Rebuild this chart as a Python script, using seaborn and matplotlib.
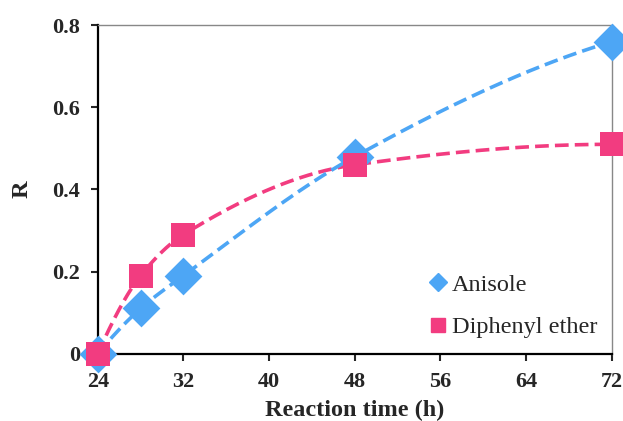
import numpy as np
import pandas as pd
import matplotlib
matplotlib.use('Agg')
import matplotlib.pyplot as plt
import seaborn as sns
from matplotlib.lines import Line2D

# =========================
# DATA
# =========================

time_h = [24, 28, 32, 48, 72]
anisole = [0.0, 0.11, 0.19, 0.48, 0.76]
diphenyl_ether = [0.0, 0.19, 0.29, 0.46, 0.51]

x_ticks = [24, 32, 40, 48, 56, 64, 72]
y_ticks = [0, 0.2, 0.4, 0.6, 0.8]
y_tick_labels = ['0', '0.2', '0.4', '0.6', '0.8']

BLUE = '#4DA6F5'
PINK = '#F23C80'

X_LIM = (24, 72)
Y_LIM = (0, 0.8)


def smooth_curve(xs, ys, n=60):
    # smoothed line: monotone cubic (pchip-style) through the points
    xs = np.asarray(xs, float)
    ys = np.asarray(ys, float)
    h = np.diff(xs)
    d = np.diff(ys) / h
    m = np.zeros_like(ys)
    for k in range(1, len(xs) - 1):
        if d[k - 1] * d[k] > 0:
            w1 = 2 * h[k] + h[k - 1]
            w2 = h[k] + 2 * h[k - 1]
            m[k] = (w1 + w2) / (w1 / d[k - 1] + w2 / d[k])
    m[0] = ((2 * h[0] + h[1]) * d[0] - h[0] * d[1]) / (h[0] + h[1])
    m[-1] = ((2 * h[-1] + h[-2]) * d[-1] - h[-1] * d[-2]) / (h[-1] + h[-2])
    if m[0] * d[0] < 0:
        m[0] = 0.0
    if m[-1] * d[-1] < 0:
        m[-1] = 0.0
    gx, gy = [], []
    for i in range(len(xs) - 1):
        t = np.linspace(0, 1, n)
        if i > 0:
            t = t[1:]
        h00 = 2 * t**3 - 3 * t**2 + 1
        h10 = t**3 - 2 * t**2 + t
        h01 = -2 * t**3 + 3 * t**2
        h11 = t**3 - t**2
        gx.append(xs[i] + t * h[i])
        gy.append(h00 * ys[i] + h10 * h[i] * m[i]
                  + h01 * ys[i + 1] + h11 * h[i] * m[i + 1])
    return np.concatenate(gx), np.concatenate(gy)


sns.set_style('white')
plt.rcParams['font.family'] = ['Liberation Serif', 'DejaVu Serif']

fig, ax = plt.subplots(figsize=(6.23, 4.21), dpi=100)

for ys, color in [(diphenyl_ether, PINK), (anisole, BLUE)]:
    sx, sy = smooth_curve(time_h, ys)
    curve = pd.DataFrame({'x': sx, 'y': sy})
    sns.lineplot(data=curve, x='x', y='y', sort=False, color=color,
                 linewidth=2.6, linestyle=(0, (3.8, 1.7)), ax=ax)

df = pd.DataFrame({'time': time_h, 'Anisole': anisole,
                   'Diphenyl ether': diphenyl_ether})

sns.scatterplot(data=df, x='time', y='Anisole', marker='D', s=370,
                color=BLUE, linewidth=0, ax=ax, clip_on=False, zorder=5)
sns.scatterplot(data=df, x='time', y='Diphenyl ether', marker='s', s=300,
                color=PINK, linewidth=0, ax=ax, clip_on=False, zorder=6)

ax.set_xlim(*X_LIM)
ax.set_ylim(*Y_LIM)
ax.set_xticks(x_ticks)
ax.set_yticks(y_ticks)
ax.set_yticklabels(y_tick_labels)
ax.tick_params(axis='both', direction='out', length=5, width=1.5,
               labelsize=16, pad=8, bottom=True, left=True)
for lab in ax.get_xticklabels() + ax.get_yticklabels():
    lab.set_fontweight('bold')

ax.set_xlabel('Reaction time (h)', fontsize=17.5, fontweight='bold', labelpad=6)
ax.set_ylabel('R', fontsize=17.5, fontweight='bold', labelpad=14)

for side in ['left', 'bottom']:
    ax.spines[side].set_color('black')
    ax.spines[side].set_linewidth(1.6)
for side in ['top', 'right']:
    ax.spines[side].set_color('#888888')
    ax.spines[side].set_linewidth(1.0)

handles = [
    Line2D([], [], marker='D', color=BLUE, linestyle='none', markersize=9),
    Line2D([], [], marker='s', color=PINK, linestyle='none', markersize=10),
]
ax.legend(handles, ['Anisole', 'Diphenyl ether'], loc='lower right',
          bbox_to_anchor=(1.015, -0.02), frameon=False, fontsize=17.5,
          handlelength=0.6, handletextpad=0.3, labelspacing=0.85)

fig.subplots_adjust(left=0.157, right=0.982, top=0.94, bottom=0.16)
fig.savefig('out.png', dpi=100)
